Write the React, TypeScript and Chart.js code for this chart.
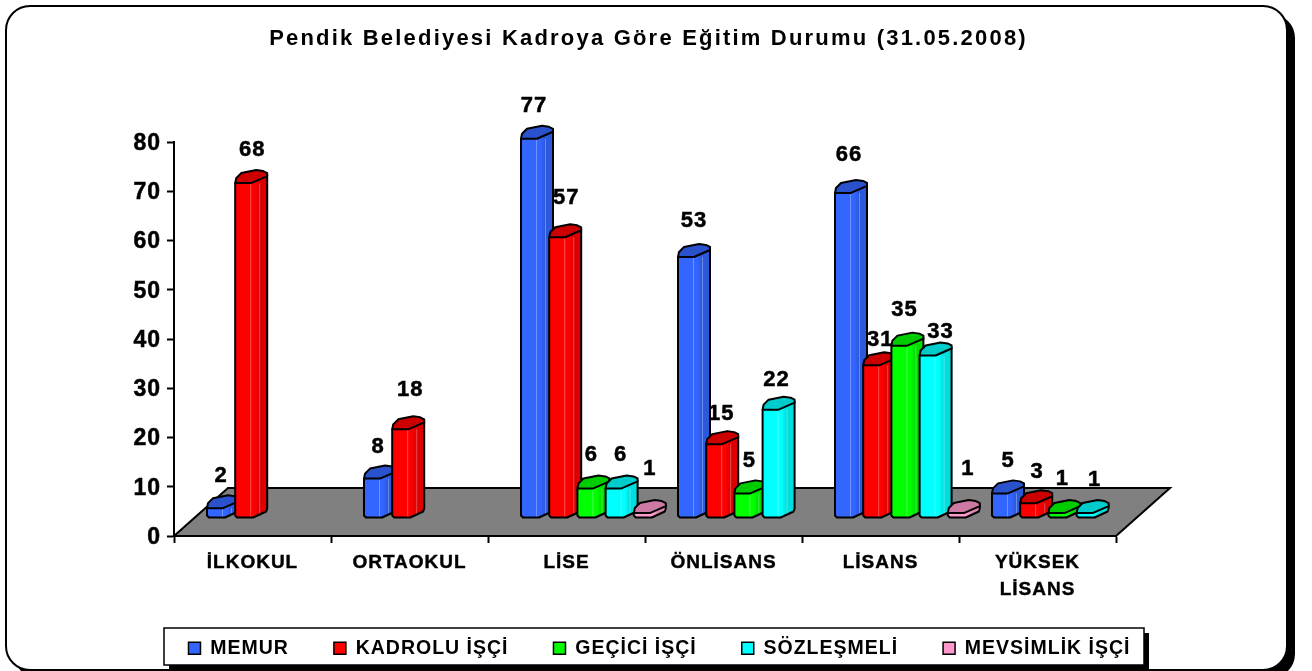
import React, { useEffect, useRef } from "react";
import { Chart, registerables } from "chart.js";

Chart.register(...registerables);

const titleText = "Pendik Belediyesi Kadroya Göre Eğitim Durumu (31.05.2008)";
const categories: (string | string[])[] = ["İLKOKUL", "ORTAOKUL", "LİSE", "ÖNLİSANS", "LİSANS", ["YÜKSEK", "LİSANS"]];
const seriesNames = ["MEMUR", "KADROLU İŞÇİ", "GEÇİCİ İŞÇİ", "SÖZLEŞMELİ", "MEVSİMLİK İŞÇİ"];
const memur = [2, 8, 77, 53, 66, 5];
const kadrolu = [68, 18, 57, 15, 31, 3];
const gecici = [null, null, 6, 5, 35, 1];
const sozlesmeli = [null, null, 6, 22, 33, 1];
const mevsimlik = [null, null, 1, null, 1, null];

const faceColors = ["#3366FF", "#FF0000", "#00FF00", "#00FFFF", "#FF99CC"];
const sideColors = ["#2C58DC", "#DD0000", "#00DD00", "#00DDDD", "#DD85B1"];
const topColors = ["#2952CC", "#CC0000", "#00CC00", "#00CCCC", "#CC7AA3"];

// label fine-tuning, in pixels, per series and category
const nudgeX = [
  [-1, -1, -2, 1, -1, 1],
  [2, 3, 2, 0, 2, 2],
  [0, 0, -1, 0, -2, -1],
  [0, 0, 0, -1, 6, 3],
  [0, 0, 1, 0, 5, 0],
];
const nudgeY = [
  [2, 2, 1, -2, -4, 2],
  [1, -5, -5, 4, 9, 3],
  [0, 0, 0, 2, -2, 0],
  [0, 0, 0, 4, 10, 1],
  [0, 0, -10, 0, -10, 0],
];

const FONT = "'Liberation Sans', Arial, sans-serif";
const SHIFT_X = 25; // 3D offset of the bars on the floor
const SHIFT_Y = -18;
const FLOOR_DX = 54;
const FLOOR_DY = -48;

function poly(ctx: CanvasRenderingContext2D, pts: number[][]) {
  ctx.beginPath();
  pts.forEach((p, i) => (i ? ctx.lineTo(p[0], p[1]) : ctx.moveTo(p[0], p[1])));
  ctx.closePath();
}

function rr(ctx: CanvasRenderingContext2D, x: number, y: number, w: number, h: number, r: number) {
  ctx.beginPath();
  ctx.roundRect(x, y, w, h, r);
}

function drawCylinder(ctx: CanvasRenderingContext2D, x: number, yt: number, yb: number, s: number) {
  ctx.save();
  ctx.lineJoin = "round";
  const body = [
    [x, yt],
    [x + 32, yt - 8],
    [x + 32, yb - 9],
    [x + 31, yb - 6],
    [x + 18, yb],
    [x + 2, yb],
    [x, yb - 2],
  ];
  poly(ctx, body);
  const grad = ctx.createLinearGradient(x, 0, x + 32, 0);
  grad.addColorStop(0, faceColors[s]);
  grad.addColorStop(0.6, faceColors[s]);
  grad.addColorStop(0.75, sideColors[s]);
  grad.addColorStop(1, sideColors[s]);
  ctx.fillStyle = grad;
  ctx.fill();
  // faint vertical highlights
  ctx.strokeStyle = "rgba(255,255,255,0.3)";
  ctx.lineWidth = 1;
  [15, 24].forEach((o) => {
    const b = o > 18 ? yb - ((o - 18) * 6) / 13 : yb;
    ctx.beginPath();
    ctx.moveTo(x + o + 0.5, yt);
    ctx.lineTo(x + o + 0.5, b);
    ctx.stroke();
  });
  // outline
  ctx.strokeStyle = "#000";
  ctx.lineWidth = 2;
  poly(ctx, body);
  ctx.stroke();
  // top cap
  poly(ctx, [
    [x, yt],
    [x + 16, yt],
    [x + 32, yt - 7],
    [x + 32, yt - 10],
    [x + 28, yt - 12],
    [x + 21, yt - 13],
    [x + 6, yt - 10],
    [x + 1, yt - 5],
  ]);
  ctx.fillStyle = topColors[s];
  ctx.fill();
  ctx.stroke();
  ctx.restore();
}

const spacing = (chart: any) => {
  chart.ctx.letterSpacing = "1px";
};

const scenePlugin = {
  id: "scene",
  beforeUpdate: spacing,
  afterLayout(chart: any) {
    // title and legend are centred on the frame, not on the plot
    const title = chart.titleBlock;
    title.left = 0;
    title.right = 1297;
    if (!title.__wrapped) {
      const draw = title.draw.bind(title);
      title.draw = (...args: any[]) => {
        chart.ctx.letterSpacing = "2.2px";
        draw(...args);
        chart.ctx.letterSpacing = "1px";
      };
      title.__wrapped = true;
    }
    chart.legend.left = 0;
    chart.legend.right = 1319;
    chart.legend.top -= 3;
    chart.legend.bottom -= 3;
  },
  beforeDraw(chart: any) {
    spacing(chart);
    const ctx = chart.ctx as CanvasRenderingContext2D;
    const { left, right, bottom } = chart.chartArea;
    ctx.save();
    // frame
    ctx.fillStyle = "#000";
    rr(ctx, 14, 14, 1281, 664, 24);
    ctx.fill();
    rr(ctx, 6, 6, 1281, 664, 24);
    ctx.fillStyle = "#fff";
    ctx.fill();
    ctx.strokeStyle = "#000";
    ctx.lineWidth = 2;
    ctx.stroke();
    // legend box
    ctx.fillStyle = "#000";
    ctx.fillRect(169, 633, 980, 38);
    ctx.fillStyle = "#fff";
    ctx.fillRect(164, 628, 980, 37);
    ctx.strokeStyle = "#000";
    ctx.lineWidth = 1.5;
    ctx.strokeRect(164, 628, 980, 37);
    // floor
    poly(ctx, [[left, bottom], [left + FLOOR_DX, bottom + FLOOR_DY], [right + FLOOR_DX, bottom + FLOOR_DY], [right, bottom]]);
    ctx.fillStyle = "#808080";
    ctx.fill();
    ctx.strokeStyle = "#000";
    ctx.lineWidth = 2;
    ctx.stroke();
    ctx.restore();
  },
  beforeDatasetDraw() {
    return false;
  },
  afterDatasetsDraw(chart: any) {
    const ctx = chart.ctx as CanvasRenderingContext2D;
    const n = chart.data.datasets.length;
    for (let s = 0; s < n; s++) {
      chart.getDatasetMeta(s).data.forEach((el: any, c: number) => {
        if (chart.data.datasets[s].data[c] == null) return;
        drawCylinder(ctx, el.x - el.width / 2 + SHIFT_X, el.y + SHIFT_Y, el.base + SHIFT_Y, s);
      });
    }
    ctx.save();
    ctx.fillStyle = "#000";
    ctx.strokeStyle = "#000";
    ctx.lineWidth = 0.5;
    ctx.font = `bold 22px ${FONT}`;
    ctx.textAlign = "center";
    ctx.textBaseline = "middle";
    for (let s = 0; s < n; s++) {
      chart.getDatasetMeta(s).data.forEach((el: any, c: number) => {
        const v = chart.data.datasets[s].data[c];
        if (v == null) return;
        const x = el.x - el.width / 2 + SHIFT_X + 15 + nudgeX[s][c];
        const y = el.y + SHIFT_Y - 34 + nudgeY[s][c];
        ctx.fillText(String(v), x, y);
        ctx.strokeText(String(v), x, y);
      });
    }
    ctx.restore();
  },
};

export default function App() {
  const ref = useRef<HTMLCanvasElement>(null);
  useEffect(() => {
    const allSeries = [memur, kadrolu, gecici, sozlesmeli, mevsimlik];
    const chart = new Chart(ref.current as HTMLCanvasElement, {
      type: "bar",
      data: {
        labels: categories as any,
        datasets: seriesNames.map((name, i) => ({
          label: name,
          data: allSeries[i] as any,
          backgroundColor: faceColors[i],
          borderColor: "#000",
          borderWidth: 1.5,
          categoryPercentage: 141 / 157,
          barPercentage: 1,
        })),
      },
      options: {
        animation: false,
        responsive: false,
        layout: { padding: { left: 0, right: 196, top: 0, bottom: 0 } },
        plugins: {
          title: {
            display: true,
            text: titleText,
            color: "#000",
            font: { family: FONT, size: 22, weight: "bold", lineHeight: 1.2 },
            padding: { top: 26, bottom: 89.6 },
          },
          legend: {
            display: true,
            position: "bottom",
            labels: {
              color: "#000",
              font: { family: FONT, size: 19.5, weight: "bold" },
              boxWidth: 12,
              boxHeight: 12,
              padding: 45,
            },
          },
          tooltip: { enabled: false },
        },
        scales: {
          x: {
            grid: { offset: true, drawOnChartArea: false, tickLength: 7, tickColor: "#000", tickWidth: 2 },
            border: { color: "#000", width: 2 },
            ticks: {
              color: "#000",
              padding: 6,
              maxRotation: 0,
              autoSkip: false,
              textStrokeColor: "#000",
              textStrokeWidth: 0.4,
              font: { family: FONT, size: 19, weight: "bold", lineHeight: 1.42 },
            },
            afterFit(s: any) {
              s.height = 671 - 536 - (s.chart.legend ? s.chart.legend.height : 0);
            },
          },
          y: {
            min: 0,
            max: 80,
            grid: { drawOnChartArea: false, tickLength: 7, tickColor: "#000", tickWidth: 2 },
            border: { color: "#000", width: 2 },
            ticks: {
              stepSize: 10,
              color: "#000",
              padding: 6,
              labelOffset: 1.5,
              textStrokeColor: "#000",
              textStrokeWidth: 0.5,
              font: { family: FONT, size: 23, weight: "bold" },
            },
            afterFit(s: any) {
              s.width = 174;
            },
          },
        },
      } as any,
      plugins: [scenePlugin as any],
    });
    return () => chart.destroy();
  }, []);
  return (
    <div style={{ position: "absolute", left: 0, top: 0, width: 1312, height: 671, background: "#fff" }}>
      <canvas ref={ref} width={1312} height={671} style={{ display: "block" }} />
    </div>
  );
}
